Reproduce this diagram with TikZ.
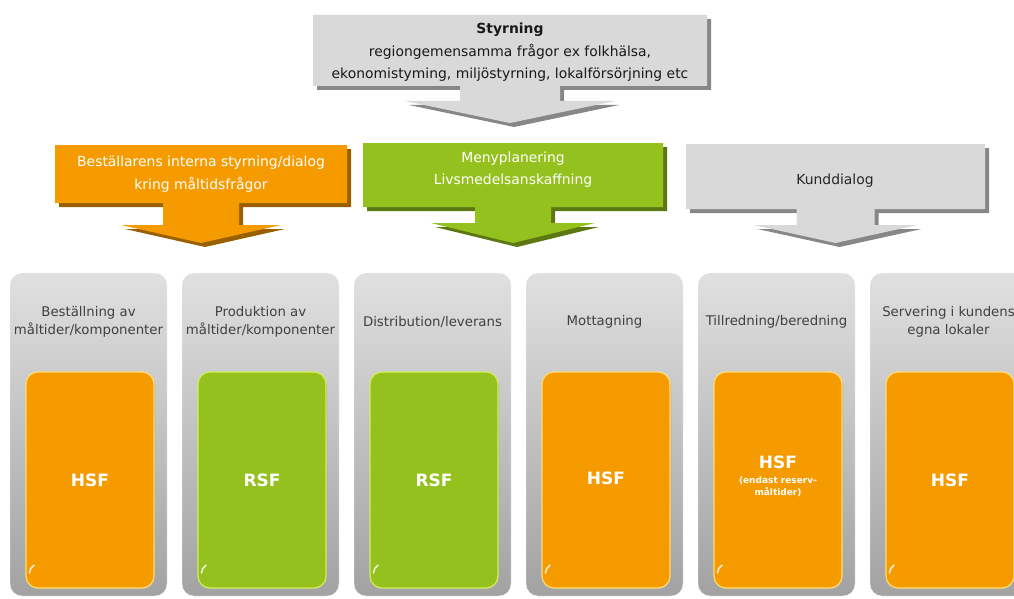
\documentclass[tikz,border=0pt]{standalone}
\usepackage{fontspec}
\setmainfont{DejaVu Sans}
\usetikzlibrary{positioning}

\definecolor{hsforange}{HTML}{F59B00}
\definecolor{rsfgreen}{HTML}{95C11F}
\definecolor{callgray}{HTML}{D9D9D9}
\definecolor{paneltop}{HTML}{E0E0E0}
\definecolor{panelmid}{HTML}{D2D2D2}
\definecolor{panelbot}{HTML}{A2A2A2}
\definecolor{paneltext}{HTML}{404040}
\definecolor{orangerim}{HTML}{FFDC73}
\definecolor{greenrim}{HTML}{D4EE5A}

% box with a downward arrow: colour, x1, y1, x2, y2, shaft half, wing half, wing y, tip y
\newcommand{\callout}[9]{%
  \pgfmathsetmacro\cx{(#2+#4)/2}%
  \foreach \s/\c in {4/#1!62!black,0/#1}{%
    \fill[\c,shift={(\s,\s)}] (#2,#3) -- (#4,#3) -- (#4,#5) -- (\cx+#6,#5) -- (\cx+#6,#8)
      -- (\cx+#7,#8) -- (\cx,#9) -- (\cx-#7,#8) -- (\cx-#6,#8) -- (\cx-#6,#5) -- (#2,#5) -- cycle;}%
}

\begin{document}
\begin{tikzpicture}[x=1pt,y=-1pt,
    head/.style={align=center,font=\fontsize{13.9}{22.5}\selectfont},
    fas/.style={align=center,text=paneltext,font=\fontsize{13.3}{18}\selectfont},
    ans/.style={text=white,font=\fontsize{17}{20}\selectfont\bfseries},
    note/.style={align=center,text=white,font=\fontsize{9}{12.5}\selectfont\bfseries}]
  \useasboundingbox (0,0) rectangle (1014,599);
  \clip (0,0) rectangle (1014,599);

  % callouts
  \callout{callgray}{313}{15}{707}{86}{50}{105}{101}{123}
  \callout{hsforange}{55}{145}{347}{203}{38}{80}{225}{243}
  \callout{rsfgreen}{363}{143}{663}{207}{38}{82}{223}{243}
  \callout{callgray}{686}{144}{985}{209}{39}{82}{225}{243}

  \node[head,text=black!90] (styr) at (510,52.5) {\textbf{Styrning}\\regiongemensamma frågor ex folkhälsa,\\ekonomistyming, miljöstyrning, lokalförsörjning etc};
  \node[head,text=white] (best) at (201,174) {Beställarens interna styrning/dialog\\kring måltidsfrågor};
  \node[head,text=white] (meny) at (513,169.5) {Menyplanering\\Livsmedelsanskaffning};
  \node[head,text=black!85] (kund) at (835,181) {Kunddialog};

  % panels
  \foreach \i/\txt/\col/\rim/\who/\ay in {
      0/{Beställning av\\måltider/komponenter}/hsforange/orangerim/HSF/480,
      1/{Produktion av\\måltider/komponenter}/rsfgreen/greenrim/RSF/480,
      2/{Distribution/leverans}/rsfgreen/greenrim/RSF/480,
      3/{Mottagning}/hsforange/orangerim/HSF/478,
      4/{Tillredning/beredning}/hsforange/orangerim/HSF/462,
      5/{Servering i kundens\\egna lokaler}/hsforange/orangerim/HSF/480}{
    \pgfmathsetmacro\px{10+172*\i}
    \shade[rounded corners=12pt,top color=paneltop,middle color=panelmid,bottom color=panelbot,
      draw=white!92!gray] (\px,273) rectangle (\px+157,596);
    \fill[rounded corners=12pt,black!35] (\px+17,374) rectangle (\px+145,590);
    \draw[rounded corners=12pt,fill=\col,draw=\rim,line width=1.2pt] (\px+16,372) rectangle (\px+144,588);
    \draw[white,opacity=0.8,line width=1.6pt,line cap=round] (\px+19.5,573) arc (180:240:9);
    \node[fas] (fas\i) at (\px+78.5,322) {\txt};
    \node[ans] (ans\i) at (\px+80,\ay) {\who};
  }
  \node[note,below=1pt of ans4] (not4) {(endast reserv-\\måltider)};
\end{tikzpicture}
\end{document}
